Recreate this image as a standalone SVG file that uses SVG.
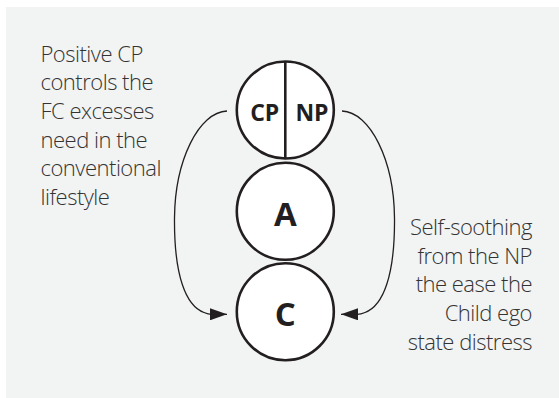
<svg xmlns="http://www.w3.org/2000/svg" width="559" height="398" viewBox="0 0 559 398">
<style>
.node{fill:#fff;stroke:#231f20;stroke-width:2.6}
.div{stroke:#231f20;stroke-width:2.6}
.lbl{font-family:"Open Sans","Liberation Sans",sans-serif;font-weight:700;fill:#231f20;text-anchor:middle}
.note{font-family:"Open Sans","Liberation Sans",sans-serif;font-weight:300;font-size:22px;fill:#333;letter-spacing:-0.5px}
.conn{fill:none;stroke:#231f20;stroke-width:1.3}
</style>
<defs>
<marker id="ah" markerWidth="17" markerHeight="12" refX="17" refY="6" orient="auto" markerUnits="userSpaceOnUse">
<path d="M0,0 L17,6 L0,12 Z" fill="#231f20"/>
</marker>
</defs>
<rect x="6" y="7" width="553" height="391" fill="#f2f4f4"/>
<g id="left-note">
<text class="note" x="40.5" y="61.5">Positive CP</text>
<text class="note" x="40.5" y="90.2">controls the</text>
<text class="note" x="40.5" y="119">FC excesses</text>
<text class="note" x="40.5" y="147.7">need in the</text>
<text class="note" x="40.5" y="176.4">conventional</text>
<text class="note" x="40.5" y="205">lifestyle</text>
</g>
<g id="right-note" style="text-anchor:end">
<text class="note" x="532" y="235">Self-soothing</text>
<text class="note" x="532" y="263.7">from the NP</text>
<text class="note" x="532" y="292.4">the ease the</text>
<text class="note" x="532" y="321">Child ego</text>
<text class="note" x="532" y="349.5">state distress</text>
</g>
<g id="connectors">
<path class="conn" d="M227,111 C199,112 175,160 174.5,218 C174,276 186,306 204,312.5 C207,313.8 209,314.3 212,314.3 L227,314.3" marker-end="url(#ah)"/>
<path class="conn" d="M342,111 C370,112 394,160 394.5,218 C395,276 383,306 365,312.5 C362,313.8 360,314.3 357,314.3 L341,314.3" marker-end="url(#ah)"/>
</g>
<g id="parent">
<circle class="node" cx="285.3" cy="110" r="48.5"/>
<line class="div" x1="285.3" y1="61.5" x2="285.3" y2="158.5"/>
<text class="lbl" x="264.7" y="121" font-size="23">CP</text>
<text class="lbl" x="312" y="121" font-size="23">NP</text>
</g>
<g id="adult">
<circle class="node" cx="285.3" cy="211.3" r="48.5"/>
<text class="lbl" x="285.3" y="225.7" font-size="33">A</text>
</g>
<g id="child">
<circle class="node" cx="285.3" cy="311.7" r="48.5"/>
<text class="lbl" x="285.3" y="326" font-size="33">C</text>
</g>
</svg>
